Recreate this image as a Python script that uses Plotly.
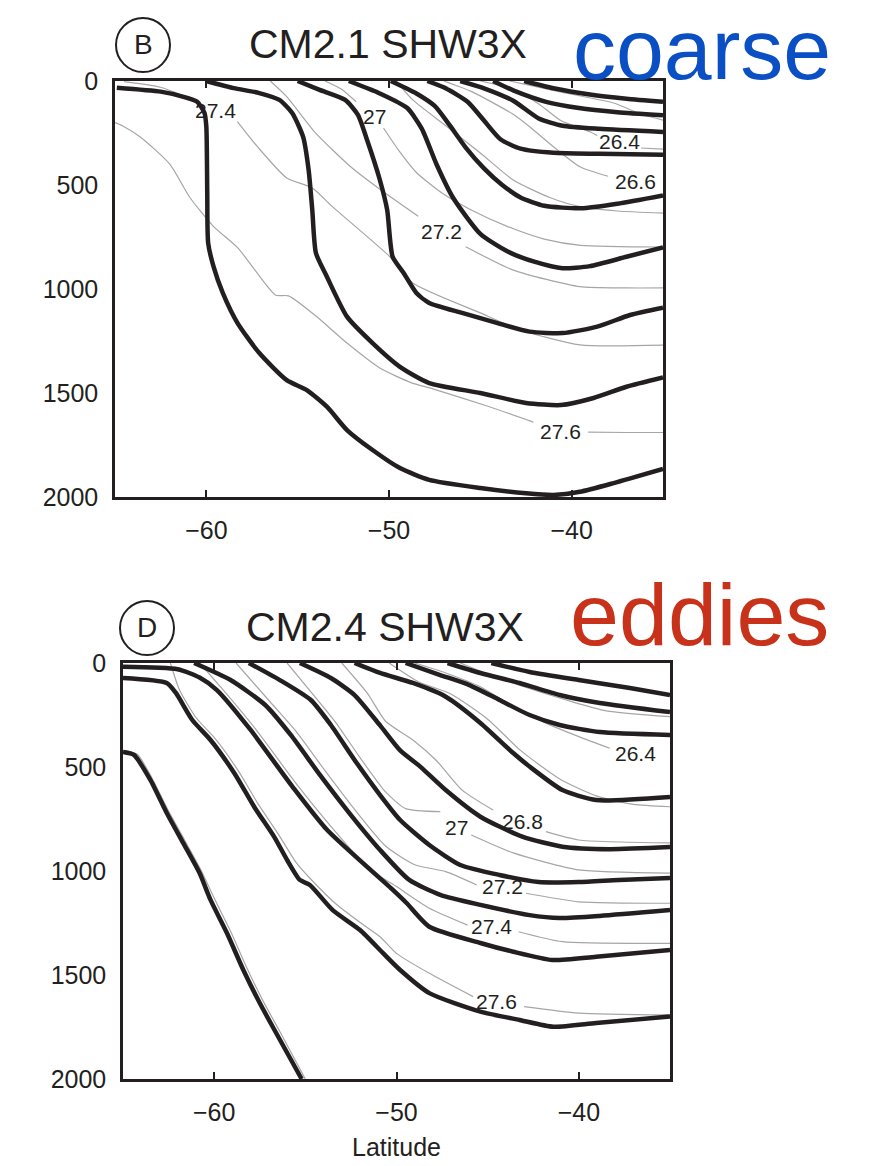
import plotly.graph_objects as go

# ---------------- Panel B: CM2.1 SHW3X (coarse) ----------------
# thick black: SHW3X isopycnals, thin grey: control isopycnals
B_K276_LAT = [-64.9, -62.5, -61.3, -60.5, -60.1, -60.0, -59.95, -59.9, -59.6, -59.1, -58.3, -57.1, -55.6, -54.5, -53.4, -52.3, -50.9, -49.4, -47.8, -45.0, -42.5, -41.0, -39.55, -37.7, -35.0]
B_K276_DEP = [32, 51, 75, 100, 154, 220, 538, 779, 894, 1019, 1163, 1308, 1438, 1486, 1566, 1678, 1774, 1861, 1918, 1957, 1982, 1990, 1975, 1933, 1865]
B_K274_LAT = [-60.0, -58.5, -57.1, -56.0, -55.3, -54.7, -54.4, -54.2, -54.0, -53.4, -52.3, -50.9, -49.4, -47.8, -45.0, -42.5, -40.6, -38.8, -37.0, -35.0]
B_K274_DEP = [0, 34, 58, 91, 154, 269, 428, 620, 827, 941, 1133, 1260, 1374, 1452, 1500, 1548, 1558, 1524, 1470, 1425]
B_K272_LAT = [-55.0, -53.8, -52.4, -51.7, -51.2, -50.5, -50.1, -49.8, -49.2, -48.5, -47.8, -46.0, -44.1, -42.3, -40.5, -38.6, -36.8, -35.0]
B_K272_DEP = [0, 43, 91, 163, 284, 476, 620, 845, 923, 1019, 1067, 1115, 1163, 1205, 1212, 1181, 1125, 1090]
B_K270_LAT = [-52.2, -50.5, -49.0, -48.2, -47.4, -46.5, -45.0, -43.5, -42.0, -40.5, -39.0, -37.0, -35.0]
B_K270_DEP = [0, 60, 130, 230, 400, 560, 735, 820, 870, 900, 890, 845, 800]
B_K268_LAT = [-49.9, -48.5, -47.5, -46.7, -45.8, -44.8, -43.8, -42.8, -41.5, -39.5, -37.5, -35.0]
B_K268_DEP = [0, 60, 120, 210, 320, 420, 500, 560, 600, 612, 590, 550]
B_K266_LAT = [-47.9, -46.9, -45.7, -44.8, -43.9, -42.8, -41.0, -38.5, -35.0]
B_K266_DEP = [0, 35, 100, 190, 280, 325, 345, 350, 355]
B_K264_LAT = [-46.1, -44.8, -43.2, -41.8, -40.5, -38.5, -35.0]
B_K264_DEP = [0, 35, 95, 180, 215, 230, 245]
B_K262_LAT = [-44.3, -43.2, -41.4, -39.6, -37.5, -35.0]
B_K262_DEP = [0, 45, 100, 130, 150, 165]
B_K260_LAT = [-42.6, -41.0, -39.0, -37.0, -35.0]
B_K260_DEP = [0, 35, 65, 85, 100]

B_C276_LAT = [-65.0, -64.6, -63.6, -62.0, -60.9, -59.6, -58.3, -56.9, -56.2, -55.5, -54.0, -52.3, -50.5, -48.8, -47.6, -44.5, -42.1, None, -39.1, -37.0, -35.0]
B_C276_DEP = [200, 215, 270, 400, 560, 700, 800, 960, 1030, 1033, 1130, 1260, 1380, 1450, 1480, 1566, 1640, None, 1688, 1690, 1690]
B_C274_LAT = [-64.5, -62.5, -61.0, None, -58.3, -57.2, -55.6, -54.2, -53.1, -49.95, -48.7, -45.0, -42.8, -39.55, -35.0]
B_C274_DEP = [3, 30, 80, None, 195, 316, 466, 514, 604, 845, 971, 1115, 1197, 1269, 1270]
B_C272_LAT = [-56.5, -55.6, -54.0, -52.1, -50.5, -48.4, None, -45.8, -43.2, -39.55, -37.0, -35.0]
B_C272_DEP = [0, 75, 252, 412, 520, 650, None, 797, 909, 989, 995, 995]
B_C270_LAT = [-53.5, -52.6, -51.8, None, -50.3, -49.5, -48.5, -47.0, -45.5, -43.5, -41.5, -39.5, -35.0]
B_C270_DEP = [0, 40, 100, None, 226, 330, 440, 545, 620, 700, 760, 790, 798]
B_C268_LAT = [-49.6, -48.7, -46.8, -45.0, -43.2, -41.2, -39.55, -37.5, -35.0]
B_C268_DEP = [0, 91, 221, 346, 476, 560, 604, 625, 635]
B_C266_LAT = [-47.0, -45.5, -44.2, -43.2, -42.3, -41.0, -39.55, -38.0]
B_C266_DEP = [0, 50, 110, 160, 220, 316, 412, 458]
B_C264_LAT = [-45.0, -43.2, -41.8, -40.6, -39.0, -38.6, None, -36.2, -35.0]
B_C264_DEP = [0, 40, 110, 190, 244, 262, None, 322, 328]
B_C262_LAT = [-43.4, -40.5, -37.7, -36.2, -35.0]
B_C262_DEP = [0, 55, 106, 160, 188]

B_LABEL_TEXT = ["27.4", "27", "26.4", "26.6", "27.2", "27.6"]
B_LABEL_LAT = [-59.5, -50.8, -37.4, -36.5, -47.1, -40.6]
B_LABEL_DEP = [140, 172, 292, 484, 725, 1683]

# ---------------- Panel D: CM2.4 SHW3X (eddies) ----------------
D_K278_LAT = [-65.0, -64.4, -63.5, -62.6, -61.7, -60.8, -60.2, -59.3, -58.4, -57.5, -56.6, -55.2]
D_K278_DEP = [428, 442, 562, 721, 865, 1010, 1139, 1298, 1476, 1635, 1779, 2000]
D_K276_LAT = [-65.0, -62.6, -62.1, -61.2, -60.2, -58.9, -57.8, -56.7, -56.0, -55.3, -54.75, -53.5, -52.0, -50.75, -49.8, -48.2, -45.4, -43.25, -41.4, -39.05, -35.0]
D_K276_DEP = [72, 96, 144, 274, 370, 529, 692, 837, 947, 1043, 1067, 1188, 1284, 1394, 1476, 1587, 1676, 1716, 1749, 1731, 1700]
D_K274_LAT = [-65.0, -62.0, -60.8, -59.85, -58.0, -55.7, -53.8, -50.2, -49.45, -48.2, -45.4, -43.6, -41.45, -39.05, -35.0]
D_K274_DEP = [18, 30, 70, 130, 322, 595, 803, 1091, 1154, 1268, 1346, 1388, 1428, 1412, 1380]
D_K272_LAT = [-61.1, -59.1, -57.2, -55.8, -54.2, -52.5, -50.9, -49.3, -47.6, -45.4, -42.7, -41.05, -38.85, -35.0]
D_K272_DEP = [0, 82, 202, 346, 538, 731, 899, 1043, 1115, 1163, 1212, 1226, 1216, 1188]
D_K270_LAT = [-58.1, -56.4, -54.7, -53.6, -52.3, -50.9, -49.8, -48.2, -46.5, -44.35, -42.2, -40.0, -37.8, -35.0]
D_K270_DEP = [0, 82, 178, 298, 466, 635, 755, 875, 971, 1019, 1053, 1053, 1043, 1034]
D_K268_LAT = [-55.3, -53.6, -52.3, -50.9, -49.8, -48.7, -47.3, -45.4, -43.1, -40.9, -38.3, -35.0]
D_K268_DEP = [0, 72, 154, 300, 420, 498, 611, 739, 835, 883, 895, 885]
D_K266_LAT = [-52.3, -50.9, -49.1, -47.3, -45.4, -43.6, -42.7, -40.9, -39.05, -35.0]
D_K266_DEP = [0, 48, 96, 162, 288, 433, 498, 611, 659, 644]
D_K264_LAT = [-49.5, -47.6, -46.0, -44.35, -42.7, -41.05, -38.85, -35.0]
D_K264_DEP = [0, 58, 106, 178, 250, 298, 332, 346]
D_K262_LAT = [-47.2, -45.4, -43.25, -41.05, -38.85, -35.0]
D_K262_DEP = [0, 48, 96, 154, 192, 236]
D_K260_LAT = [-44.8, -42.7, -40.0, -37.2, -35.0]
D_K260_DEP = [0, 43, 82, 120, 154]

D_C278_LAT = [-64.9, -64.2, -63.4, -62.5, -61.6, -60.7, -60.0, -59.1, -58.2, -57.3, -56.4, -55.0]
D_C278_DEP = [420, 440, 555, 712, 855, 1000, 1130, 1290, 1468, 1628, 1772, 2000]
D_C276_LAT = [-62.4, -61.9, -61.0, -60.0, -58.7, -57.6, -56.5, -55.5, -54.8, -53.3, -51.8, -50.9, -50.0, -48.2, -45.8, None, -43.0, -40.0, -35.0]
D_C276_DEP = [0, 130, 262, 358, 515, 676, 820, 960, 1030, 1160, 1260, 1316, 1396, 1492, 1604, None, 1652, 1683, 1692]
D_C274_LAT = [-60.8, -59.6, -57.8, -55.5, -53.6, -51.5, -50.0, -48.2, -46.1, None, -43.3, -40.9, -35.0]
D_C274_DEP = [0, 120, 310, 580, 785, 990, 1075, 1179, 1260, None, 1292, 1340, 1348]
D_C272_LAT = [-58.8, -56.9, -55.5, -53.9, -52.2, -50.6, -49.0, -47.3, -45.6, None, -42.9, -40.0, -35.0]
D_C272_DEP = [0, 190, 330, 520, 715, 880, 970, 1003, 1067, None, 1107, 1148, 1155]
D_C270_LAT = [-56.0, -54.4, -53.3, -52.0, -50.6, -49.5, -47.6, None, -45.9, -43.6, -40.0, -35.0]
D_C270_DEP = [0, 170, 290, 455, 620, 700, 715, None, 827, 913, 995, 1010]
D_C268_LAT = [-53.0, -51.6, -50.6, -49.1, -47.8, -46.4, -44.7, None, -41.8, -40.0, -35.0]
D_C268_DEP = [0, 145, 280, 370, 470, 611, 707, None, 811, 851, 865]
D_C266_LAT = [-50.4, -48.8, -47.0, -45.0, -43.2, -41.0, -39.0, -37.0, -35.0]
D_C266_DEP = [0, 90, 150, 270, 420, 560, 640, 680, 691]
D_C264_LAT = [-49.0, -47.3, -45.4, -43.6, -41.8, -40.0, -38.3, None]
D_C264_DEP = [0, 48, 114, 210, 289, 354, 410, None]
D_C262_LAT = [-46.5, -44.8, -42.8, -40.6, -38.5, -35.0]
D_C262_DEP = [0, 60, 120, 180, 230, 258]

D_LABEL_TEXT = ["26.4", "26.8", "27", "27.2", "27.4", "27.6"]
D_LABEL_LAT = [-36.9, -43.1, -46.7, -44.2, -44.8, -44.5]
D_LABEL_DEP = [433, 763, 793, 1075, 1268, 1628]

LAT_TICKS = [-60, -50, -40]
LAT_TICKTEXT = ["\u221260", "\u221250", "\u221240"]
DEPTH_TICKS = [0, 500, 1000, 1500, 2000]

INK = "#231f20"
GREY = "#a6a6a6"
FONT = "Liberation Sans, Arial, Helvetica, sans-serif"

fig = go.Figure()

def add_line(lat, dep, xa, ya, color, width):
    fig.add_trace(go.Scatter(x=lat, y=dep, mode="lines", xaxis=xa, yaxis=ya,
                             line=dict(color=color, width=width, shape="spline", smoothing=0.6),
                             connectgaps=False, hoverinfo="skip", showlegend=False))

coarse_control = [(B_C276_LAT, B_C276_DEP), (B_C274_LAT, B_C274_DEP), (B_C272_LAT, B_C272_DEP),
                  (B_C270_LAT, B_C270_DEP), (B_C268_LAT, B_C268_DEP), (B_C266_LAT, B_C266_DEP),
                  (B_C264_LAT, B_C264_DEP), (B_C262_LAT, B_C262_DEP)]
coarse_shw = [(B_K276_LAT, B_K276_DEP), (B_K274_LAT, B_K274_DEP), (B_K272_LAT, B_K272_DEP),
              (B_K270_LAT, B_K270_DEP), (B_K268_LAT, B_K268_DEP), (B_K266_LAT, B_K266_DEP),
              (B_K264_LAT, B_K264_DEP), (B_K262_LAT, B_K262_DEP), (B_K260_LAT, B_K260_DEP)]
eddy_control = [(D_C278_LAT, D_C278_DEP), (D_C276_LAT, D_C276_DEP), (D_C274_LAT, D_C274_DEP),
                (D_C272_LAT, D_C272_DEP), (D_C270_LAT, D_C270_DEP), (D_C268_LAT, D_C268_DEP),
                (D_C266_LAT, D_C266_DEP), (D_C264_LAT, D_C264_DEP), (D_C262_LAT, D_C262_DEP)]
eddy_shw = [(D_K278_LAT, D_K278_DEP), (D_K276_LAT, D_K276_DEP), (D_K274_LAT, D_K274_DEP),
            (D_K272_LAT, D_K272_DEP), (D_K270_LAT, D_K270_DEP), (D_K268_LAT, D_K268_DEP),
            (D_K266_LAT, D_K266_DEP), (D_K264_LAT, D_K264_DEP), (D_K262_LAT, D_K262_DEP),
            (D_K260_LAT, D_K260_DEP)]

for lat, dep in coarse_control:
    add_line(lat, dep, "x", "y", GREY, 1.2)
for lat, dep in coarse_shw:
    add_line(lat, dep, "x", "y", INK, 4.5)
for lat, dep in eddy_control:
    add_line(lat, dep, "x2", "y2", GREY, 1.2)
for lat, dep in eddy_shw:
    add_line(lat, dep, "x2", "y2", INK, 4.5)

annotations = []
for t, la, de in zip(B_LABEL_TEXT, B_LABEL_LAT, B_LABEL_DEP):
    annotations.append(dict(x=la, y=de, xref="x", yref="y", text=t, showarrow=False,
                            xanchor="center", yanchor="middle",
                            font=dict(family=FONT, size=21, color=INK)))
for t, la, de in zip(D_LABEL_TEXT, D_LABEL_LAT, D_LABEL_DEP):
    annotations.append(dict(x=la, y=de, xref="x2", yref="y2", text=t, showarrow=False,
                            xanchor="center", yanchor="middle",
                            font=dict(family=FONT, size=21, color=INK)))

W, H = 870, 1166
def px(xp):
    return xp / W
def py(yp):
    return 1 - yp / H

def paper_text(x, y, text, size, color):
    return dict(x=px(x), y=py(y), xref="paper", yref="paper", text=text, showarrow=False,
                xanchor="center", yanchor="middle", font=dict(family=FONT, size=size, color=color))

# panel titles
annotations += [
    paper_text(388, 44, "CM2.1 SHW3X", 41, INK),
    paper_text(702, 49, "coarse", 86, "#0a4fc4"),
    paper_text(143, 45, "B", 28, INK),
    paper_text(385, 627, "CM2.4 SHW3X", 41, INK),
    paper_text(699, 614, "eddies", 88, "#c8321a"),
    paper_text(147, 628, "D", 28, INK),
]

shapes = [
    dict(type="circle", xref="paper", yref="paper", x0=px(116), x1=px(170), y0=py(72), y1=py(18),
         line=dict(color=INK, width=2)),
    dict(type="circle", xref="paper", yref="paper", x0=px(120), x1=px(174), y0=py(655), y1=py(601),
         line=dict(color=INK, width=2)),
]

xcommon = dict(range=[-65, -35], tickvals=LAT_TICKS, ticktext=LAT_TICKTEXT, ticks="inside",
               ticklen=7, tickwidth=2, tickcolor=INK, showline=True, linewidth=2.5, linecolor=INK,
               mirror="ticks", showgrid=False, zeroline=False, ticklabelstandoff=9,
               tickfont=dict(family=FONT, size=25, color=INK))
ycommon = dict(range=[2000, 0], tickvals=DEPTH_TICKS, ticks="", showline=True, linewidth=2.5,
               linecolor=INK, mirror=True, showgrid=False, zeroline=False, ticklabelstandoff=9,
               tickfont=dict(family=FONT, size=25, color=INK))

fig.update_layout(
    width=W, height=H, margin=dict(l=0, r=0, t=0, b=0, autoexpand=False),
    paper_bgcolor="white", plot_bgcolor="white",
    xaxis=dict(domain=[px(115), px(663)], anchor="y", **xcommon),
    yaxis=dict(domain=[py(497), py(81)], anchor="x", **ycommon),
    xaxis2=dict(domain=[px(123), px(670)], anchor="y2",
                title=dict(text="Latitude", font=dict(family=FONT, size=25, color=INK), standoff=14),
                **xcommon),
    yaxis2=dict(domain=[py(1079), py(663)], anchor="x2", **ycommon),
    annotations=annotations, shapes=shapes,
)

fig.write_html("out.html")
